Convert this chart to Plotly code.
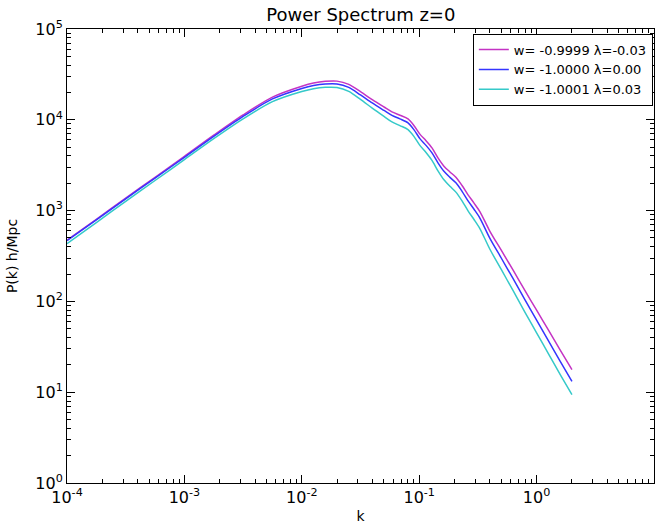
import plotly.graph_objects as go

# wavenumber k (h/Mpc)
k = [1.0e-4, 1.778e-4, 3.162e-4, 5.623e-4, 1.0e-3, 1.778e-3, 3.162e-3, 5.623e-3,
     0.01, 0.01259, 0.01585, 0.01995, 0.02512, 0.03162, 0.03981, 0.05012,
     0.0586, 0.0685, 0.0803, 0.0904, 0.1017, 0.1143, 0.1285, 0.1445,
     0.1625, 0.1827, 0.2054, 0.2317, 0.2606, 0.2931, 0.3296, 0.3981,
     0.5012, 0.6310, 0.7943, 1.0, 1.259, 1.585, 2.0]

# P(k) for the three models
p_m = [471.6, 802.5, 1373, 2326, 3954, 6766, 11320, 17780,
       23420, 25400, 26520, 26660, 24520, 20380, 16680, 13830,
       12220, 11240, 10230, 8611, 6909, 5891, 4910, 3809,
       3087, 2666, 2330, 1889, 1492, 1209, 970, 599.6,
       363.9, 220.4, 132.1, 80.0, 48.46, 29.27, 17.73]

p_b = [465.6, 792, 1349, 2279, 3856, 6565, 10900, 16980,
       22150, 23900, 24830, 24830, 22720, 18790, 15340, 12690,
       11180, 10230, 9245, 7743, 6165, 5228, 4324, 3357,
       2706, 2324, 2022, 1631, 1282, 1034, 823, 502,
       298.7, 177.7, 104.4, 62.1, 36.96, 21.99, 13.18]

p_c = [431.5, 738.2, 1263, 2146, 3646, 6207, 10260, 15860,
       20530, 22040, 22780, 22670, 20530, 16760, 13450, 10900,
       9483, 8636, 7805, 6535, 5189, 4357, 3567, 2741,
       2182, 1851, 1598, 1279, 994.9, 798.2, 630.6, 380,
       223.2, 131.1, 76.26, 45.03, 26.59, 15.74, 9.41]

labels = ["w= -0.9999 λ=-0.03", "w= -1.0000 λ=0.00", "w= -1.0001 λ=0.03"]
colors = ["#c433c4", "#3535ff", "#35c9c9"]

x_tickvals = [1e-4, 1e-3, 1e-2, 1e-1, 1e0, 1e1]
x_ticktext = ["10<sup>-4</sup>", "10<sup>-3</sup>", "10<sup>-2</sup>",
              "10<sup>-1</sup>", "10<sup>0</sup>", "10<sup>1</sup>"]
y_tickvals = [1e0, 1e1, 1e2, 1e3, 1e4, 1e5]
y_ticktext = ["10<sup>0</sup>", "10<sup>1</sup>", "10<sup>2</sup>",
              "10<sup>3</sup>", "10<sup>4</sup>", "10<sup>5</sup>"]

fig = go.Figure()
for p, name, c in zip([p_m, p_b, p_c], labels, colors):
    fig.add_trace(go.Scatter(x=k, y=p, mode="lines", name=name,
                             line=dict(color=c, width=1.5, shape="spline", smoothing=0.8)))

axis_style = dict(
    type="log", showgrid=False, zeroline=False,
    showline=True, linecolor="#000000", linewidth=1, mirror="allticks",
    ticks="inside", ticklen=8, tickwidth=1, tickcolor="#000000",
    minor=dict(ticks="inside", ticklen=4, tickwidth=1, tickcolor="#000000", dtick="D1"),
    tickfont=dict(family="DejaVu Sans", size=16, color="#000000"),
)

fig.update_xaxes(**axis_style, range=[-4, 1], tickvals=x_tickvals, ticktext=x_ticktext,
                 title=dict(text="k", font=dict(family="DejaVu Sans", size=14, color="#000000"),
                            standoff=4))
fig.update_yaxes(**axis_style, range=[0, 5], tickvals=y_tickvals, ticktext=y_ticktext,
                 title=dict(text="P(k) h/Mpc", font=dict(family="DejaVu Sans", size=14, color="#000000"),
                            standoff=14))

fig.update_layout(
    width=667, height=527,
    margin=dict(l=67, r=13, t=29, b=44, autoexpand=False),
    paper_bgcolor="white", plot_bgcolor="white",
    title=dict(text="Power Spectrum z=0", x=0.541, xanchor="center", y=0.985, yanchor="top",
               font=dict(family="DejaVu Sans", size=18, color="#000000")),
    legend=dict(x=0.998, xanchor="right", y=0.99, yanchor="top",
                bordercolor="#000000", borderwidth=1, bgcolor="white",
                font=dict(family="DejaVu Sans", size=13, color="#000000"),
                tracegroupgap=0, itemwidth=30),
    showlegend=True,
)

fig.write_html("out.html", config={"displayModeBar": False},
               post_script="document.body.style.margin='0';")
